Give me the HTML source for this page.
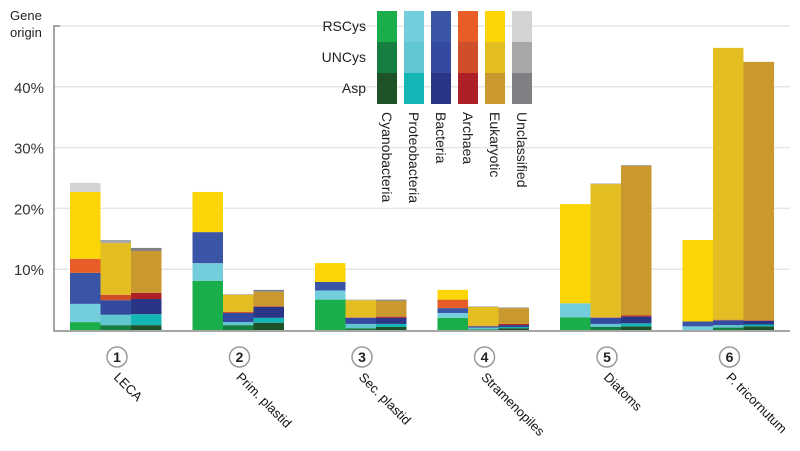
<!DOCTYPE html>
<html><head><meta charset="utf-8"><style>
body{margin:0;background:#fff;}
svg{display:block;font-family:"Liberation Sans",Arial,sans-serif;}
</style></head><body>
<svg id="chart" width="800" height="451"></svg>
<script>
const groups=["LECA","Prim. plastid","Sec. plastid","Stramenopiles","Diatoms","P. tricornutum"];
const barTypes=["RSCys","UNCys","Asp"];
const origins=["Cyanobacteria","Proteobacteria","Bacteria","Archaea","Eukaryotic","Unclassified"];
// cumulative stack tops (%) per bar: [cyano, proteo, bacteria, archaea, eukaryotic, unclassified]
const cumRSCys=[[1.3,4.3,9.4,11.7,22.7,24.2],[8.1,11.0,16.1,16.1,22.7,22.7],[5.0,6.5,7.9,7.9,11.0,11.0],[2.0,2.8,3.6,5.0,6.6,6.6],[2.1,4.4,4.4,4.4,20.7,20.7],[0,0.6,1.4,1.4,14.8,14.8]];
const cumUNCys=[[0.8,2.5,4.9,5.8,14.3,14.8],[0.8,1.3,2.8,3.0,5.8,5.9],[0.3,1.0,2.0,2.1,4.9,5.0],[0.1,0.4,0.6,0.7,3.8,3.9],[0.5,1.0,2.0,2.1,24.0,24.1],[0.4,0.8,1.6,1.7,46.4,46.4]];
const cumAsp=[[0.8,2.6,5.1,6.1,13.0,13.5],[1.2,2.0,3.8,3.9,6.3,6.6],[0.5,1.0,2.0,2.2,4.8,5.0],[0.3,0.5,0.8,1.0,3.6,3.7],[0.6,1.1,2.2,2.4,27.0,27.1],[0.6,0.9,1.5,1.6,44.1,44.1]];
const yTicks=[10,20,30,40];
const colors=[
 ["#1aae4a","#74cddc","#3b55a6","#e75c27","#fbd505","#d2d3d5"],
 ["#167e40","#60c7d2","#334a9f","#cf4f28","#e2be23","#a6a7a9"],
 ["#1e5329","#13b5b5","#2b3586","#ae1f26","#c9982e","#7f8083"]];
const series=[cumRSCys,cumUNCys,cumAsp];
const NS="http://www.w3.org/2000/svg";
const svg=document.getElementById("chart");
const y0=330,pp=6.08;
const yS=v=>y0-v*pp;
const gX=i=>70+i*122.5;
const bw=30.5;
function mk(t,a,p){const e=document.createElementNS(NS,t);for(const k in a)e.setAttribute(k,a[k]);(p||svg).appendChild(e);return e;}
// grid
yTicks.forEach(t=>{
 const l=mk("line",{x1:54,x2:790,y1:yS(t),y2:yS(t),stroke:"#e6e6e6","stroke-width":1.5});
 
 
 const tx=mk("text",{x:44,y:yS(t)+6,"text-anchor":"end","font-size":15,fill:"#333"});
 tx.textContent=t+"%";
 
 
});
const topL=mk("line",{x1:54,x2:790,y1:26,y2:26,stroke:"#e6e6e6","stroke-width":1.5});


// bars
groups.forEach((g,gi)=>{
 series.forEach((s,bi)=>{
  const cum=s[gi];let prev=0;
  cum.forEach((c,oi)=>{
   if(c>prev){const r=mk("rect",{x:gX(gi)+bi*bw,y:yS(c),width:bw,height:(c-prev)*pp,fill:colors[bi][oi]});
    
    }
   prev=Math.max(prev,c);
  });
 });
 const cx=gX(gi)+47;
 const c=mk("circle",{cx:cx,cy:357,r:10,fill:"#fff",stroke:"#999","stroke-width":1.5});
 
 
 const n=mk("text",{x:cx,y:362,"text-anchor":"middle","font-size":14,"font-weight":"bold",fill:"#222"});
 n.textContent=gi+1;
 
 
 const lb=mk("text",{x:0,y:0,"font-size":13,fill:"#111",transform:`translate(${cx-4},${378}) rotate(45)`,"font-style":gi==5?"normal":"normal"});
 lb.textContent=g;
 
 
});
// axes
const ax=mk("path",{d:"M60,26 H54 V331 H790",fill:"none",stroke:"#888","stroke-width":1.5});


const t1=mk("text",{x:10,y:20,"font-size":13,fill:"#222"});t1.textContent="Gene";


const t2=mk("text",{x:10,y:37,"font-size":13,fill:"#222"});t2.textContent="origin";


// legend
barTypes.forEach((b,bi)=>{
 const t=mk("text",{x:366,y:31+bi*31,"text-anchor":"end","font-size":14,fill:"#222"});t.textContent=b;
 
 
 origins.forEach((o,oi)=>{
  const r=mk("rect",{x:377+oi*27,y:11+bi*31,width:20,height:31,fill:colors[bi][oi]});
  
  
 });
});
origins.forEach((o,oi)=>{
 const t=mk("text",{x:0,y:0,"font-size":14,fill:"#222",transform:`translate(${382+oi*27},112) rotate(90)`});
 t.textContent=o;
 
 
});
</script>
</body></html>
